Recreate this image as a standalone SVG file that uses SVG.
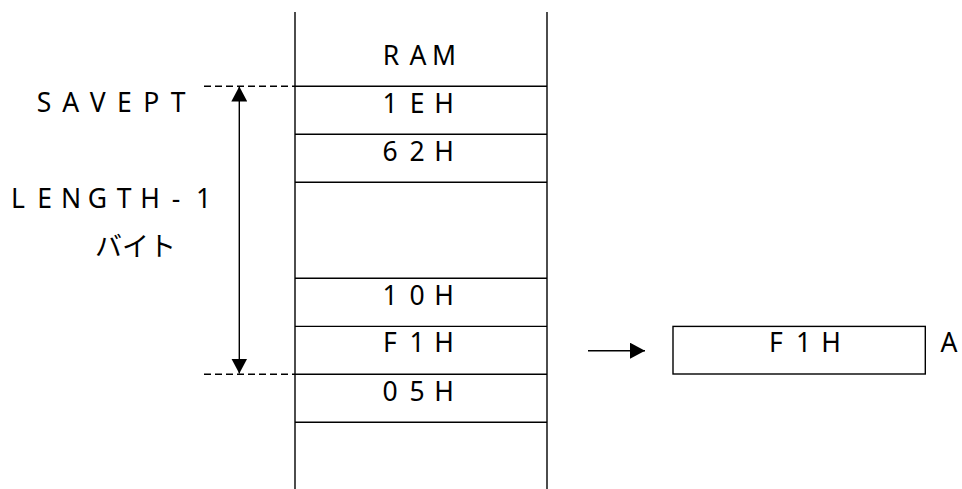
<svg xmlns="http://www.w3.org/2000/svg" width="962" height="489" viewBox="0 0 962 489">
<style>
.ln{stroke:#000;stroke-width:1.4;fill:none}
.ds{stroke:#000;stroke-width:1.4;fill:none;stroke-dasharray:7 4}
.t{font-family:"Noto Sans","Noto Sans CJK JP",sans-serif;font-size:26.5px;fill:#000;text-anchor:middle}
.j{font-family:"Noto Sans CJK JP",sans-serif;font-size:27px;fill:#000;text-anchor:middle}
</style>
<defs>
<marker id="ah" viewBox="0 0 15 16" refX="15" refY="8" markerWidth="15" markerHeight="16" markerUnits="userSpaceOnUse" orient="auto">
<path d="M0,0 L15,8 L0,16 Z" fill="#000"/>
</marker>
</defs>
<rect width="962" height="489" fill="#fff"/>
<g id="ram">
<line class="ln" x1="295" y1="12" x2="295" y2="489"/>
<line class="ln" x1="547" y1="12" x2="547" y2="489"/>
<line class="ln" x1="295" y1="86.3" x2="547" y2="86.3"/>
<line class="ln" x1="295" y1="134.3" x2="547" y2="134.3"/>
<line class="ln" x1="295" y1="182.3" x2="547" y2="182.3"/>
<line class="ln" x1="295" y1="278.3" x2="547" y2="278.3"/>
<line class="ln" x1="295" y1="326.4" x2="547" y2="326.4"/>
<line class="ln" x1="295" y1="374.3" x2="547" y2="374.3"/>
<line class="ln" x1="295" y1="422.3" x2="547" y2="422.3"/>
<text class="t" x="391 418 444" y="64.5">RAM</text>
<text class="t" x="390 417 444" y="112.5">1EH</text>
<text class="t" x="390 417 444" y="160.5">62H</text>
<text class="t" x="390 417 444" y="304.5">10H</text>
<text class="t" x="390 417 444" y="352">F1H</text>
<text class="t" x="390 417 444" y="400.5">05H</text>
</g>
<g id="regA">
<rect class="ln" x="673" y="326.4" width="252.3" height="47.6"/>
<text class="t" x="776 803.5 831" y="352">F1H</text>
<text class="t" x="949" y="352">A</text>
</g>
<g id="labels">
<text class="t" x="44 70.8 97.6 124.4 151.2 178" y="112">SAVEPT</text>
<text class="t" x="18 44.5 71 97.5 124 150 176 203.5" y="207.5">LENGTH-1</text>
<text class="j" x="135.5" y="256">バイト</text>
</g>
<g id="connectors">
<line class="ds" x1="204" y1="86.3" x2="295" y2="86.3"/>
<line class="ds" x1="204" y1="374.3" x2="295" y2="374.3"/>
<line class="ln" x1="239.3" y1="230" x2="239.3" y2="86.5" marker-end="url(#ah)"/>
<line class="ln" x1="239.3" y1="230" x2="239.3" y2="373.5" marker-end="url(#ah)"/>
<line class="ln" x1="588" y1="350.7" x2="645" y2="350.7" marker-end="url(#ah)"/>
</g>
</svg>
